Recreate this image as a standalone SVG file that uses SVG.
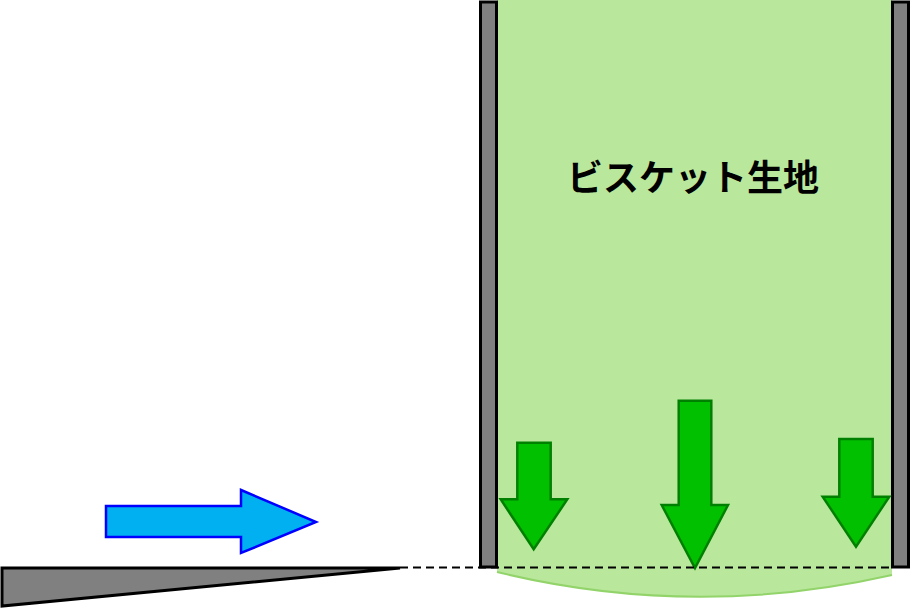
<svg xmlns="http://www.w3.org/2000/svg" width="911" height="609" viewBox="0 0 911 609">
<style>
.wall{fill:#808080;stroke:#000;stroke-width:3}
.down{fill:#00C000;stroke:#008000;stroke-width:2.5;stroke-linejoin:miter}
.label{font-family:"Noto Sans CJK JP","Noto Sans",sans-serif;font-weight:bold;font-size:36px;fill:#000}
</style>
<rect width="911" height="609" fill="#fff"/>
<g id="dough">
<rect x="497" y="0" width="395" height="567" fill="#b9e89c"/>
<path d="M497,567 L892,567 L892,575 Q694,620 497,572 Z" fill="#b9e89c" stroke="none"/>
<path d="M497,572 Q694,620 892,575" fill="none" stroke="#92d36a" stroke-width="2"/>
<text class="label" x="693" y="191" text-anchor="middle">ビスケット生地</text>
</g>
<g id="left-wall"><rect class="wall" x="480.5" y="2" width="16" height="565"/></g>
<g id="right-wall"><rect class="wall" x="892.5" y="2" width="16" height="565"/></g>
<g id="blade"><polygon class="wall" points="2,568 400,568 2,606"/></g>
<g id="push-arrow"><polygon points="106,506 241,506 241,490 316,522 241,553 241,537 106,537" fill="#00B0F0" stroke="#0000FF" stroke-width="2.5"/></g>
<g id="press-arrows">
<polygon class="down" points="517.3,442.7 550.7,442.7 550.7,499.3 567.3,499.3 533.7,549.3 500.7,499.3 517.3,499.3"/>
<polygon class="down" points="678.7,400.7 711.3,400.7 711.3,505 728,505 695,568 661.7,505 678.7,505"/>
<polygon class="down" points="839.3,439 872.7,439 872.7,496.7 889.3,496.7 856,546.7 822.7,496.7 839.3,496.7"/>
</g>
<g id="connectors">
<line x1="400" y1="567.5" x2="892" y2="567.5" stroke="#000" stroke-width="2" stroke-dasharray="8,5"/>
</g>
</svg>
